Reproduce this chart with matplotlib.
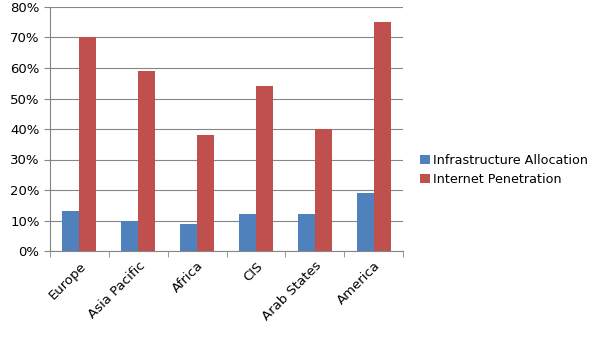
import numpy as np
import matplotlib.pyplot as plt
from matplotlib.ticker import PercentFormatter, FixedLocator

regions = ["Europe", "Asia Pacific", "Africa", "CIS", "Arab States", "America"]
infrastructure = [13, 10, 9, 12, 12, 19]
penetration = [70, 59, 38, 54, 40, 75]

fig = plt.figure(figsize=(6.05, 3.4), dpi=100)
ax = fig.add_axes([50 / 605, 89 / 340, 353 / 605, 244 / 340])

x = np.arange(len(regions))
w = 0.29
ax.bar(x - w / 2, infrastructure, w, color="#4F81BD", label="Infrastructure Allocation", zorder=3)
ax.bar(x + w / 2, penetration, w, color="#C0504D", label="Internet Penetration", zorder=3)

ax.set_xlim(-0.5, len(regions) - 0.5)
ax.set_ylim(0, 80)
ax.set_yticks(np.arange(0, 81, 10))
ax.yaxis.set_major_formatter(PercentFormatter(decimals=0))
ax.yaxis.grid(True, color="#868686", linewidth=0.8, zorder=0)

ax.set_xticks(x)
ax.set_xticklabels(regions, rotation=45, ha="right", rotation_mode="anchor", fontsize=9.5)
ax.tick_params(axis="x", which="major", length=0, pad=6)
# tick marks sit between the categories
ax.xaxis.set_minor_locator(FixedLocator(np.arange(-0.5, len(regions), 1)))
ax.tick_params(axis="x", which="minor", length=4, color="#868686")
ax.tick_params(axis="y", length=4, color="#868686", labelsize=9.5)

for side in ["top", "right"]:
    ax.spines[side].set_visible(False)
for side in ["left", "bottom"]:
    ax.spines[side].set_color("#868686")

fig.legend(loc="center left", bbox_to_anchor=(420 / 605, 170 / 340),
           bbox_transform=fig.transFigure, frameon=False, borderpad=0,
           borderaxespad=0, fontsize=9.2, handlelength=0.75, handleheight=0.75,
           handletextpad=0.25, labelspacing=0.5)

fig.savefig("out.png", dpi=100)
